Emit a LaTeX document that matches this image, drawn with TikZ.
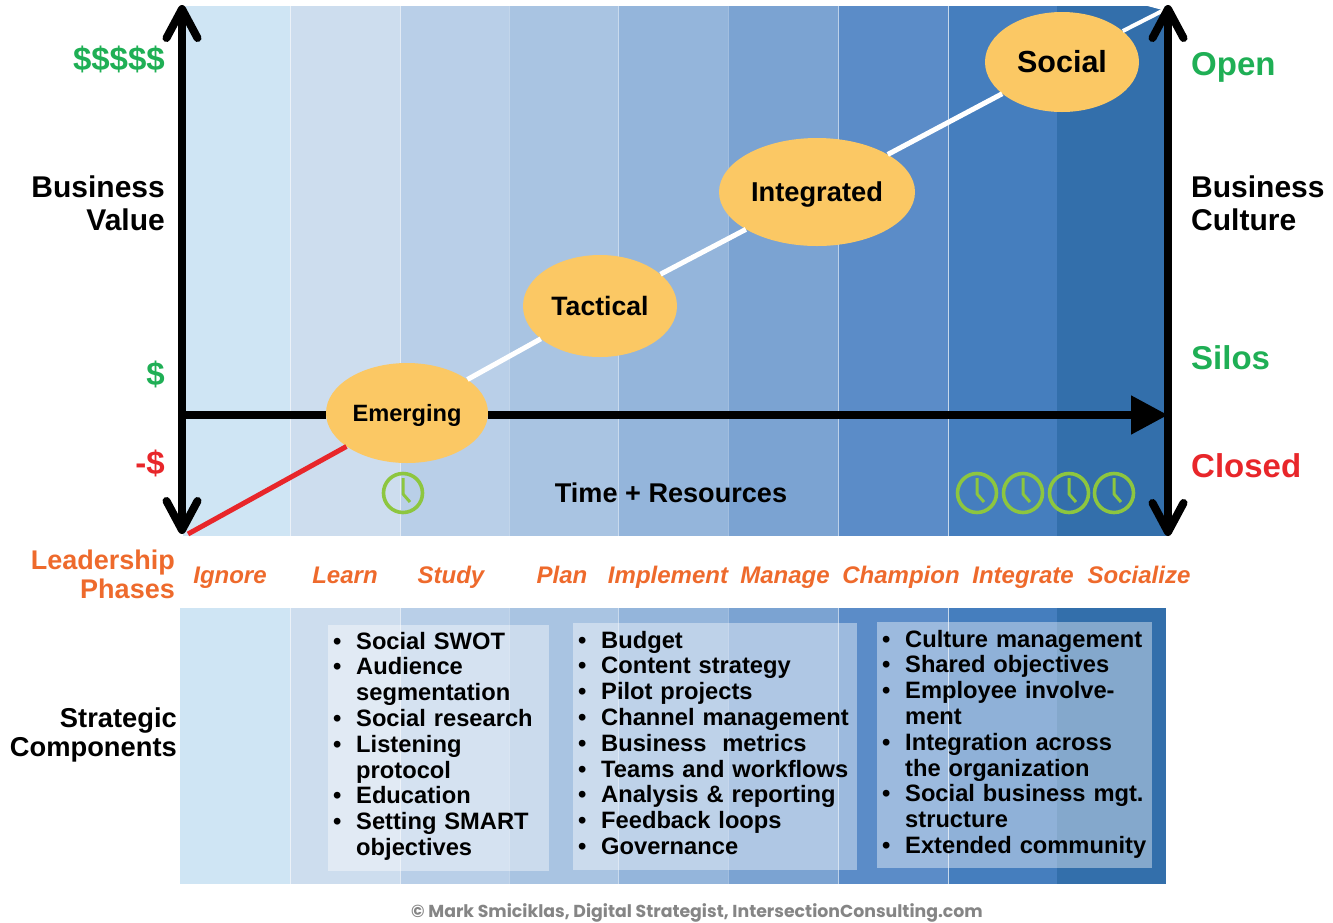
\documentclass[tikz,border=0pt]{standalone}
\usepackage{fontspec}
\setmainfont{Liberation Sans}
\newfontfamily\footfont{Poppins}
\usetikzlibrary{arrows.meta,shapes.geometric}
\definecolor{colA}{HTML}{CFE5F4}
\definecolor{colB}{HTML}{CDDDEE}
\definecolor{colC}{HTML}{B9CFE8}
\definecolor{colD}{HTML}{A9C4E2}
\definecolor{colE}{HTML}{94B5DB}
\definecolor{colF}{HTML}{7BA3D2}
\definecolor{colG}{HTML}{5B8CC8}
\definecolor{colH}{HTML}{457EBE}
\definecolor{colI}{HTML}{336FAB}
\definecolor{okgreen}{HTML}{1FAF55}
\definecolor{badred}{HTML}{E8262A}
\definecolor{phase}{HTML}{EE6A2C}
\definecolor{oval}{HTML}{FBC864}
\definecolor{clockgreen}{HTML}{8DC63F}
\definecolor{footgray}{HTML}{858585}
\newcommand{\fs}[1]{\fontsize{#1}{#1}\selectfont\bfseries}
\newcommand{\capt}[1]{\rule{0pt}{.716em}\raisebox{0pt}[0pt][0pt]{#1}}
\newcommand{\bitem}{\par\noindent\hangindent=18pt\hangafter=1\hbox to 18pt{\hspace{-5pt}\textbullet\hfil}}
\tikzset{
  axis/.style={line width=8pt,black},
  barbs/.style={{Straight Barb[length=29pt,width=31pt,round]}-{Straight Barb[length=29pt,width=31pt,round]}},
  phaselabel/.style={text=phase,font=\fs{24}\itshape,inner sep=0pt,anchor=base},
  ovalnode/.style={ellipse,fill=oval,inner sep=0pt},
  leftlabel/.style={anchor=base east,inner sep=0pt,font=\fs{30}},
  rightlabel/.style={anchor=base west,inner sep=0pt,font=\fs{30}},
  bulletlist/.style={anchor=north west,inner sep=0pt,font=\fs{23.7}},
  panel/.style={fill=white,fill opacity=.4},
  clockface/.pic={
    \draw[clockgreen,line width=3.6pt] (0,0) circle (19.5);
    \draw[clockgreen,line width=3pt,line join=round] (0,-15) -- (0,1) -- (7,9);
  }
}
\begin{document}
\begin{tikzpicture}[x=1pt,y=-1pt]
\useasboundingbox (0,0) rectangle (1333,922);
% column bands
\foreach \a/\b/\c in {183/290/colA,290/400/colB,400/509/colC,509/618/colD,618/728/colE,728/838/colF,838/948/colG,948/1057/colH,1057/1168/colI}{
  \fill[\c] (\a,6) rectangle (\b,536);
}
\foreach \a/\b/\c in {180/290/colA,290/400/colB,400/509/colC,509/618/colD,618/728/colE,728/838/colF,838/948/colG,948/1057/colH,1057/1166/colI}{
  \fill[\c] (\a,608) rectangle (\b,884);
}
% panels
\fill[panel] (328,625) rectangle (549,871);
\fill[panel] (573,623) rectangle (857,870);
\fill[panel] (877,622) rectangle (1152,868);
\foreach \a/\o in {290/.6,400/.6,509/.3,618/.5,728/.3,838/.6,948/.7}{
  \draw[white,opacity=\o,line width=1pt] (\a,6) -- (\a,536);
  \draw[white,opacity=\o,line width=1pt] (\a,608) -- (\a,884);
}
% ovals
\node[ovalnode,minimum width=162pt,minimum height=100pt,font=\fs{23.6}] (emerging) at (407,413) {\capt{Emerging}};
\node[ovalnode,minimum width=154pt,minimum height=102pt,font=\fs{26.6}] (tactical) at (600,306) {\capt{Tactical}};
\node[ovalnode,minimum width=196pt,minimum height=108pt,font=\fs{27.3}] (integrated) at (817,192) {\capt{Integrated}};
\node[ovalnode,minimum width=154pt,minimum height=100pt,font=\fs{30.5}] (social) at (1062,62) {\capt{Social}};
% diagonal
\coordinate (origin) at (188,534);
\coordinate (peak) at (1168,8);
\draw[badred,line width=5pt] (origin) -- (emerging);
\draw[white,line width=5pt] (emerging) -- (tactical);
\draw[white,line width=5pt] (tactical) -- (integrated);
\draw[white,line width=5pt] (integrated) -- (social);
\draw[white,line width=4pt,-{Straight Barb[length=15pt,width=27pt,round]}] (social) -- (peak);
% axes
\coordinate (ltop) at (182,5);
\coordinate (lbot) at (182,534);
\coordinate (rtop) at (1168,5);
\coordinate (rbot) at (1168,536);
\coordinate (xstart) at (183,415);
\coordinate (xend) at (1168,415);
\draw[axis,barbs] (ltop) -- (lbot);
\draw[axis,barbs] (rtop) -- (rbot);
\draw[axis] (xstart) -- (xstart -| emerging.west);
\draw[axis,-{Triangle[length=37pt,width=37pt]}] (emerging.east |- xend) -- (xend);
% clocks
\pic at (403,493) {clockface};
\pic at (977,493) {clockface};
\pic at (1023,493) {clockface};
\pic at (1069,493) {clockface};
\pic at (1114,493) {clockface};
\node[font=\fs{27.1},inner sep=0pt] (time) at (671,493) {Time + Resources};
% left labels
\node[leftlabel,text=okgreen,font=\fs{33}] (v5) at (165,70) {\$\$\$\$\$};
\node[leftlabel,text=okgreen,font=\fs{33}] (v1) at (165,385) {\$};
\node[leftlabel,text=badred,font=\fs{33}] (vm) at (165,474) {-\$};
\node[leftlabel] (bv1) at (165,197) {Business};
\node[leftlabel] (bv2) at (165,230) {Value};
% right labels
\node[rightlabel,text=okgreen,font=\fs{33}] (open) at (1191,75) {Open};
\node[rightlabel,text=okgreen,font=\fs{33}] (silos) at (1191,369) {Silos};
\node[rightlabel,text=badred,font=\fs{33}] (closed) at (1191,477) {Closed};
\node[rightlabel] (bc1) at (1191,197) {Business};
\node[rightlabel] (bc2) at (1191,230) {Culture};
% row labels
\node[leftlabel,text=phase,font=\fs{27}] (lp1) at (175,569) {Leadership};
\node[leftlabel,text=phase,font=\fs{27}] (lp2) at (175,598) {Phases};
\node[leftlabel,font=\fs{27.3}] (sc1) at (177,727) {Strategic};
\node[leftlabel,font=\fs{27.3}] (sc2) at (177,756) {Components};
% phases
\node[phaselabel] (p1) at (230,583) {Ignore};
\node[phaselabel] (p2) at (345,583) {Learn};
\node[phaselabel] (p3) at (451,583) {Study};
\node[phaselabel] (p4) at (562,583) {Plan};
\node[phaselabel] (p5) at (668,583) {Implement};
\node[phaselabel] (p6) at (785,583) {Manage};
\node[phaselabel] (p7) at (901,583) {Champion};
\node[phaselabel] (p8) at (1023,583) {Integrate};
\node[phaselabel] (p9) at (1139,583) {Socialize};
% lists
\node[bulletlist,text width=215pt] (l1) at (338,623) {\baselineskip=25.8pt
\bitem Social SWOT
\bitem Audience\newline segmentation
\bitem Social research
\bitem Listening\newline protocol
\bitem Education
\bitem Setting SMART\newline objectives\par};
\node[bulletlist,text width=270pt] (l2) at (583,622) {\baselineskip=25.8pt
\bitem Budget
\bitem Content strategy
\bitem Pilot projects
\bitem Channel management
\bitem Business\ \ metrics
\bitem Teams and workflows
\bitem Analysis \& reporting
\bitem Feedback loops
\bitem Governance\par};
\node[bulletlist,text width=265pt] (l3) at (887,621) {\baselineskip=25.8pt
\bitem Culture management
\bitem Shared objectives
\bitem Employee involve-\newline ment
\bitem Integration across\newline the organization
\bitem Social business mgt.\newline structure
\bitem Extended community\par};
% footer
\node[text=footgray,inner sep=0pt,font=\footfont\fontsize{17.33}{20}\selectfont\bfseries] (foot) at (697,913) {© Mark Smiciklas, Digital Strategist, IntersectionConsulting.com};
\end{tikzpicture}
\end{document}
